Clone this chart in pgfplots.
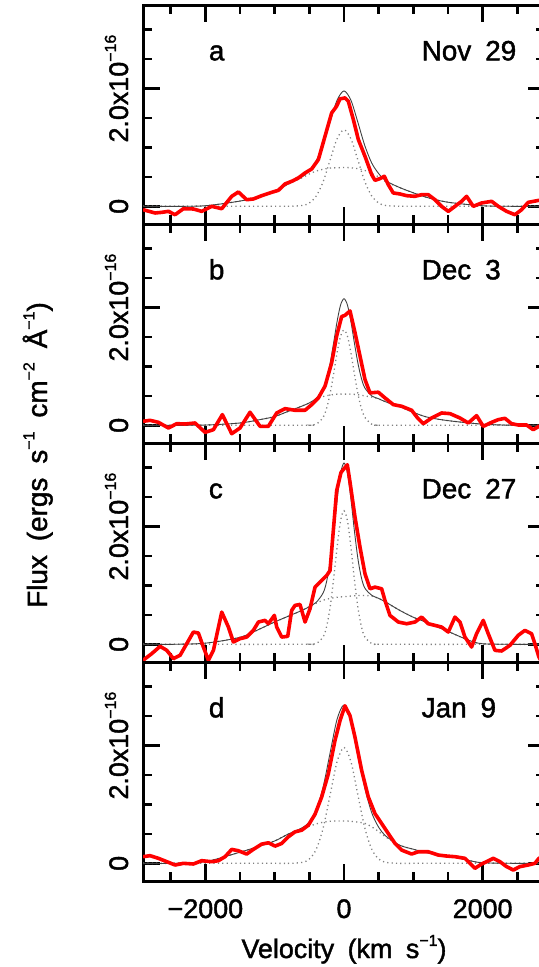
\documentclass[border=0pt]{standalone}
\usepackage{fontspec}
\setmainfont{Liberation Sans}[FakeBold=1.5]
\usepackage{pgfplots}
\pgfplotsset{compat=1.18}
\newcommand{\sps}[1]{\raisebox{0.45em}{\fontsize{16}{16}\selectfont #1}}
\newcommand{\fa}{\fontsize{28}{28}\selectfont}
\newcommand{\fb}{\fontsize{27}{27}\selectfont}
\pgfplotsset{
  panel/.style={
    scale only axis, width=402bp, height=219bp,
    xmin=-2900, xmax=2900, ymin=-0.30, ymax=3.42,
    clip=true,
    xtick={-2000,0,2000},
    minor xtick={-2500,-1500,-1000,-500,500,1000,1500,2500},
    ytick={0,2},
    minor ytick={0.5,1,1.5,2.5,3},
    yticklabels={0,{2.0x10\sps{−16}}},
    xticklabels={},
    axis line style={line width=3bp},
    tick align=inside,
    major tick length=17bp, minor tick length=9bp,
    tick style={black, line width=2.5bp},
    yticklabel style={rotate=90, anchor=base, font=\fb},
    yticklabel shift=15bp,
    xticklabel style={anchor=base, font=\fb},
    xticklabel shift=37bp,
  },
  comp/.style={black!50, line width=1.3bp, dash pattern=on 1.2bp off 3.2bp, smooth},
  fit/.style={black!75, line width=0.9bp, smooth},
  obs/.style={red, line width=3.6bp, line join=round},
}
\begin{document}
\begin{tikzpicture}
% ---------------- panel a ----------------
\begin{axis}[panel, at={(143bp,-5bp)}, anchor=north west]
\addplot[comp] coordinates {(-2900,0) (-1000,0) (-800,0.001) (-600,0.015) (-500,0.057) (-400,0.176) (-300,0.422) (-200,0.788) (-100,1.147) (0,1.30) (100,1.147) (200,0.788) (300,0.422) (400,0.176) (500,0.057) (600,0.015) (800,0.001) (1000,0) (2900,0)};
\addplot[comp] coordinates {(-2900,0) (-2500,0) (-2000,0.01) (-1500,0.09) (-1200,0.17) (-1000,0.26) (-800,0.38) (-600,0.49) (-500,0.55) (-400,0.60) (-300,0.63) (-200,0.65) (-100,0.655) (0,0.66) (100,0.655) (200,0.64) (300,0.61) (400,0.56) (500,0.50) (600,0.42) (800,0.32) (1000,0.23) (1200,0.15) (1500,0.07) (2000,0.01) (2500,0) (2900,0)};
\addplot[fit] coordinates {(-2900,0) (-2500,0) (-2000,0.01) (-1500,0.09) (-1200,0.17) (-1000,0.26) (-800,0.381) (-600,0.505) (-500,0.607) (-400,0.776) (-300,1.052) (-200,1.438) (-100,1.802) (0,1.96) (100,1.802) (200,1.428) (300,1.032) (400,0.736) (500,0.557) (600,0.435) (800,0.321) (1000,0.23) (1200,0.15) (1500,0.07) (2000,0.01) (2500,0) (2900,0)};
\addplot[obs] coordinates {(-2899,-0.057) (-2726,-0.113) (-2629,-0.102) (-2533,-0.085) (-2437,-0.142) (-2317,-0.040) (-2173,-0.045) (-2053,-0.085) (-1908,0.0) (-1764,-0.040) (-1620,0.170) (-1524,0.244) (-1404,0.113) (-1308,0.125) (-1187,0.181) (-1043,0.238) (-947,0.272) (-851,0.380) (-755,0.425) (-659,0.482) (-562,0.567) (-466,0.635) (-370,0.794) (-274,1.190) (-178,1.587) (-106,1.701) (-58,1.825) (14,1.842) (62,1.786) (135,1.474) (207,1.134) (303,0.850) (399,0.539) (447,0.442) (519,0.471) (582,0.510) (639,0.368) (711,0.227) (808,0.210) (904,0.181) (1024,0.170) (1120,0.198) (1216,0.198) (1312,0.113) (1408,0.0) (1505,-0.085) (1601,0.0) (1697,0.085) (1769,0.170) (1865,0.0) (1985,0.057) (2130,0.085) (2226,0.0) (2346,-0.085) (2466,-0.142) (2562,-0.057) (2658,0.068) (2812,0.102) (2900,0.11)};
\node[anchor=base west, font=\fa] at (axis cs:-2000,2.48) {a};
\node[anchor=base west, font=\fa] at (axis cs:1070,2.48) {Nov\hspace{0.5em}29};
\end{axis}
% ---------------- panel b ----------------
\begin{axis}[panel, at={(143bp,-224bp)}, anchor=north west]
\addplot[comp] coordinates {(-2900,0) (-600,0) (-500,0.002) (-400,0.020) (-300,0.137) (-250,0.292) (-200,0.541) (-150,0.874) (-100,1.231) (-50,1.513) (0,1.62) (50,1.513) (100,1.231) (150,0.874) (200,0.541) (250,0.292) (300,0.137) (400,0.020) (500,0.002) (600,0) (2900,0)};
\addplot[comp] coordinates {(-2900,0) (-2500,0) (-2000,0.005) (-1500,0.04) (-1200,0.10) (-1000,0.15) (-800,0.24) (-600,0.33) (-500,0.38) (-400,0.44) (-300,0.49) (-200,0.515) (-100,0.53) (0,0.53) (100,0.53) (200,0.52) (300,0.50) (400,0.48) (500,0.45) (600,0.40) (800,0.32) (1000,0.22) (1200,0.14) (1500,0.08) (2000,0.02) (2500,0) (2900,0)};
\addplot[fit] coordinates {(-2900,0) (-2500,0) (-2000,0.005) (-1500,0.04) (-1200,0.10) (-1000,0.15) (-800,0.24) (-600,0.33) (-500,0.382) (-400,0.46) (-300,0.627) (-250,0.797) (-200,1.056) (-150,1.399) (-100,1.761) (-50,2.043) (0,2.15) (50,2.043) (100,1.761) (150,1.399) (200,1.061) (250,0.802) (300,0.637) (400,0.50) (500,0.452) (600,0.40) (800,0.32) (1000,0.22) (1200,0.14) (1500,0.08) (2000,0.02) (2500,0) (2900,0)};
\addplot[obs] coordinates {(-2899,0.068) (-2798,0.085) (-2677,0.051) (-2533,-0.045) (-2413,0.028) (-2293,0.023) (-2149,0.040) (-2005,-0.119) (-1884,-0.074) (-1755,0.182) (-1620,-0.142) (-1500,-0.045) (-1356,0.222) (-1211,-0.017) (-1091,-0.017) (-971,0.210) (-851,0.284) (-707,0.256) (-562,0.256) (-466,0.352) (-370,0.466) (-274,0.665) (-178,1.063) (-106,1.517) (-34,1.847) (14,1.869) (87,1.943) (159,1.574) (231,1.176) (303,0.778) (375,0.551) (495,0.563) (591,0.466) (711,0.352) (832,0.324) (976,0.256) (1062,0.125) (1144,0.028) (1264,0.125) (1408,0.210) (1529,0.199) (1673,0.125) (1793,0.040) (1913,0.165) (2009,-0.017) (2130,0.051) (2226,0.097) (2322,0.119) (2418,0.028) (2514,0.006) (2634,0.006) (2730,-0.074) (2812,-0.017) (2900,-0.03)};
\node[anchor=base west, font=\fa] at (axis cs:-2000,2.48) {b};
\node[anchor=base west, font=\fa] at (axis cs:1070,2.48) {Dec\hspace{0.5em}3};
\end{axis}
% ---------------- panel c ----------------
\begin{axis}[panel, at={(143bp,-443bp)}, anchor=north west]
\addplot[comp] coordinates {(-2900,0) (-600,0) (-500,0.001) (-400,0.014) (-300,0.127) (-250,0.307) (-200,0.631) (-150,1.105) (-100,1.648) (-50,2.095) (0,2.27) (50,2.095) (100,1.648) (150,1.105) (200,0.631) (250,0.307) (300,0.127) (400,0.014) (500,0.001) (600,0) (2900,0)};
\addplot[comp] coordinates {(-2900,0) (-2500,0) (-2000,0.02) (-1500,0.12) (-1200,0.27) (-1000,0.38) (-800,0.48) (-600,0.58) (-500,0.64) (-400,0.70) (-300,0.75) (-200,0.78) (-100,0.80) (0,0.81) (100,0.82) (200,0.83) (300,0.83) (400,0.82) (500,0.78) (600,0.72) (800,0.58) (1000,0.46) (1200,0.37) (1500,0.22) (1800,0.07) (2000,0.01) (2500,0) (2900,0)};
\addplot[fit] coordinates {(-2900,0) (-2500,0) (-2000,0.02) (-1500,0.12) (-1200,0.27) (-1000,0.38) (-800,0.48) (-600,0.58) (-500,0.641) (-400,0.714) (-300,0.877) (-250,1.072) (-200,1.411) (-150,1.895) (-100,2.448) (-50,2.90) (0,3.08) (50,2.91) (100,2.468) (150,1.93) (200,1.461) (250,1.137) (300,0.957) (400,0.834) (500,0.781) (600,0.72) (800,0.58) (1000,0.46) (1200,0.37) (1500,0.22) (1800,0.07) (2000,0.01) (2500,0) (2900,0)};
\addplot[obs] coordinates {(-2899,-0.271) (-2774,-0.158) (-2653,-0.034) (-2557,-0.102) (-2461,-0.243) (-2365,-0.186) (-2269,0.011) (-2173,0.209) (-2101,0.192) (-2029,-0.045) (-1956,-0.271) (-1884,-0.102) (-1764,0.548) (-1668,0.294) (-1596,0.040) (-1500,0.096) (-1404,0.124) (-1308,0.237) (-1235,0.379) (-1139,0.407) (-1091,0.350) (-1005,0.492) (-971,0.294) (-899,0.124) (-812,0.136) (-755,0.576) (-707,0.661) (-635,0.678) (-562,0.379) (-490,0.605) (-418,0.972) (-322,1.085) (-250,1.169) (-202,1.254) (-178,1.593) (-106,2.610) (-43,2.921) (48,3.051) (87,2.751) (159,2.158) (231,1.650) (303,1.198) (375,0.944) (447,0.972) (543,0.944) (591,0.746) (663,0.492) (784,0.379) (904,0.350) (1024,0.379) (1120,0.463) (1216,0.350) (1312,0.322) (1408,0.294) (1505,0.209) (1601,0.463) (1673,0.379) (1745,0.124) (1841,-0.045) (1913,0.181) (2009,0.407) (2081,0.181) (2178,-0.102) (2274,-0.113) (2394,-0.017) (2514,0.153) (2610,0.237) (2706,0.181) (2754,0.011) (2812,-0.215) (2900,-0.40)};
\node[anchor=base west, font=\fa] at (axis cs:-2000,2.48) {c};
\node[anchor=base west, font=\fa] at (axis cs:1070,2.48) {Dec\hspace{0.5em}27};
\end{axis}
% ---------------- panel d ----------------
\begin{axis}[panel, at={(143bp,-662bp)}, anchor=north west,
  xticklabels={−2000,0,2000},
  xlabel={Velocity\hspace{0.5em}(km\hspace{0.5em}s\sps{−1})},
  xlabel style={at={(axis description cs:0.5,0)}, anchor=base, yshift=-77bp, font=\fb}]
\addplot[comp] coordinates {(-2900,0) (-1000,0) (-800,0.0) (-600,0.017) (-500,0.074) (-400,0.240) (-300,0.603) (-200,1.164) (-100,1.727) (0,1.97) (100,1.727) (200,1.164) (300,0.603) (400,0.240) (500,0.074) (600,0.017) (800,0.0) (1000,0) (2900,0)};
\addplot[comp] coordinates {(-2900,0) (-2500,0) (-2000,0.03) (-1500,0.19) (-1200,0.30) (-1000,0.38) (-800,0.50) (-600,0.59) (-500,0.63) (-400,0.67) (-300,0.70) (-200,0.715) (-100,0.72) (0,0.72) (100,0.715) (200,0.70) (300,0.68) (400,0.62) (500,0.54) (600,0.45) (800,0.31) (1000,0.24) (1200,0.18) (1500,0.13) (1800,0.05) (2000,0.01) (2500,0) (2900,0)};
\addplot[fit] coordinates {(-2900,0) (-2500,0) (-2000,0.03) (-1500,0.19) (-1200,0.30) (-1000,0.38) (-800,0.50) (-600,0.607) (-500,0.704) (-400,0.91) (-300,1.303) (-200,1.879) (-100,2.447) (0,2.69) (100,2.442) (200,1.864) (300,1.283) (400,0.86) (500,0.614) (600,0.467) (800,0.31) (1000,0.24) (1200,0.18) (1500,0.13) (1800,0.05) (2000,0.01) (2500,0) (2900,0)};
\addplot[obs] coordinates {(-2899,0.113) (-2798,0.130) (-2677,0.085) (-2557,0.028) (-2437,-0.028) (-2317,0.0) (-2173,-0.011) (-2053,0.045) (-1908,0.028) (-1812,0.045) (-1716,0.113) (-1620,0.237) (-1524,0.214) (-1404,0.158) (-1308,0.237) (-1187,0.327) (-1091,0.349) (-995,0.293) (-899,0.338) (-803,0.451) (-707,0.535) (-610,0.563) (-514,0.648) (-418,0.834) (-322,1.127) (-226,1.521) (-130,2.085) (-58,2.423) (14,2.676) (87,2.507) (159,2.141) (255,1.577) (351,1.127) (447,0.845) (543,0.676) (639,0.507) (736,0.338) (832,0.225) (976,0.158) (1072,0.197) (1216,0.197) (1360,0.141) (1481,0.124) (1601,0.113) (1745,0.085) (1841,-0.028) (1889,-0.085) (1985,-0.011) (2057,0.028) (2154,0.085) (2250,0.028) (2346,-0.056) (2442,-0.113) (2538,-0.056) (2658,-0.028) (2754,0.0) (2812,0.085) (2900,0.12)};
\node[anchor=base west, font=\fa] at (axis cs:-2000,2.48) {d};
\node[anchor=base west, font=\fa] at (axis cs:1070,2.48) {Jan\hspace{0.5em}9};
\end{axis}
\node[rotate=90, anchor=base, font=\fa] at (47bp,-455bp) {Flux\hspace{0.5em}(ergs\hspace{0.5em}s\sps{−1}\hspace{0.5em}cm\sps{−2}\hspace{0.5em}Å\sps{−1})};
\pgfresetboundingbox
\useasboundingbox (0bp,0bp) rectangle (539bp,-967bp);
\end{tikzpicture}
\end{document}
